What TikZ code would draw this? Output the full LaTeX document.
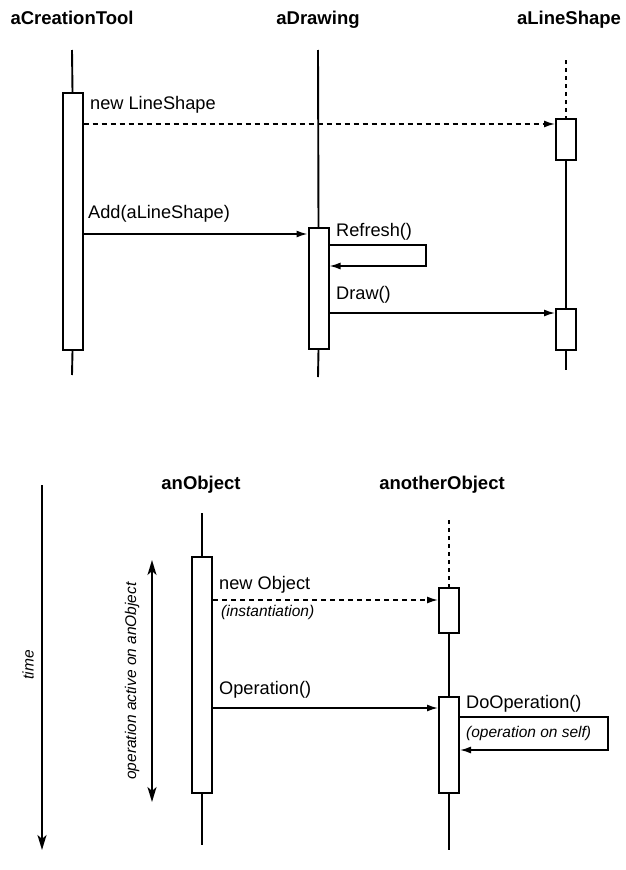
\documentclass[tikz,border=0pt]{standalone}
\usepackage{fontspec}
\setmainfont{Liberation Sans}
\usetikzlibrary{arrows.meta}
\begin{document}
\begin{tikzpicture}[x=1pt,y=-1pt,
  obj/.style={font=\bfseries\fontsize{18.5}{22}\selectfont, inner sep=0},
  msg/.style={font=\fontsize{18.2}{22}\selectfont, anchor=west, inner sep=0},
  note/.style={font=\itshape\fontsize{15.5}{18}\selectfont, anchor=west, inner sep=0},
  act/.style={draw, line width=2pt, fill=white, minimum width=20pt, inner sep=0},
  life/.style={line width=1.9pt},
  lifedash/.style={line width=1.6pt, dash pattern=on 4pt off 4pt},
  call/.style={line width=1.5pt, -{Latex[length=11pt,width=7pt]}},
  create/.style={call, dash pattern=on 5pt off 4pt},
  axis/.style={line width=2pt},
]
\useasboundingbox (0,0) rectangle (625,870);

% ---------- upper sequence: creating and drawing a line shape ----------
\node[obj] (tTool) at (72,18) {aCreationTool};
\node[obj] (tDraw) at (318,20) {aDrawing};
\node[obj] (tLine) at (569,20) {aLineShape};

\coordinate (toolTop) at (72,50);
\coordinate (toolBot) at (72,375);
\coordinate (drawTop) at (318,50);
\coordinate (drawBot) at (318,377);
\coordinate (lineTop) at (566,60);
\coordinate (lineBot) at (566,370);

\node[act, minimum height=257pt] (toolAct) at (72.5,221.5) {};
\node[act, minimum height=121pt] (drawAct) at (318.5,288.5) {};
\node[act, minimum height=41pt]  (lineAct1) at (566,139.5) {};
\node[act, minimum height=41pt]  (lineAct2) at (566,329) {};

\draw[life] (toolTop) -- (toolAct.north);
\draw[life] (toolAct.south) -- (toolBot);
\draw[life] (drawTop) -- (drawAct.north);
\draw[life] (drawAct.south) -- (drawBot);
\draw[lifedash] (lineTop) -- (lineAct1.north);
\draw[life] (lineAct1.south) -- (lineAct2.north);
\draw[life] (lineAct2.south) -- (lineBot);

\coordinate (mNew) at (0,124);
\coordinate (mAdd) at (0,234);
\coordinate (mRefA) at (0,245);
\coordinate (mRefB) at (0,266);
\coordinate (mRefX) at (426,0);
\coordinate (mDraw) at (0,313);

\draw[create] (toolAct.east |- mNew) -- (lineAct1.west |- mNew);
\node[msg] (lNew) at (90,105) {new LineShape};

\draw[call] (toolAct.east |- mAdd) -- (drawAct.west |- mAdd);
\node[msg] (lAdd) at (88,214) {Add(aLineShape)};

\draw[call] (drawAct.east |- mRefA) -- (mRefX |- mRefA) -- (mRefX |- mRefB) -- (drawAct.east |- mRefB);
\node[msg] (lRef) at (336,232) {Refresh()};

\draw[call] (drawAct.east |- mDraw) -- (lineAct2.west |- mDraw);
\node[msg] (lDraw) at (336,295) {Draw()};

% ---------- lower sequence: notation ----------
\coordinate (timeTop) at (42,485);
\coordinate (timeBot) at (42,850);
\draw[axis, -{Stealth[length=15pt,width=9pt,inset=4pt]}] (timeTop) -- (timeBot);
\node[note, anchor=center, rotate=90] (lTime) at (28,665) {time};

\coordinate (spanTop) at (152,560);
\coordinate (spanBot) at (152,802);
\draw[axis, {Stealth[length=15pt,width=9pt,inset=4pt]}-{Stealth[length=15pt,width=9pt,inset=4pt]}] (spanTop) -- (spanBot);
\node[note, anchor=center, rotate=90] (lSpan) at (132,681) {operation active on anObject};

\node[obj] (tObj) at (201,485) {anObject};
\node[obj] (tOther) at (442,485) {anotherObject};

\coordinate (objTop) at (202,513);
\coordinate (objBot) at (202,845);
\coordinate (othTop) at (449,520);
\coordinate (othBot) at (449,850);

\node[act, minimum height=236pt] (objAct) at (202,675) {};
\node[act, minimum height=45pt]  (othAct1) at (449,610.5) {};
\node[act, minimum height=96pt]  (othAct2) at (449,745) {};

\draw[life] (objTop) -- (objAct.north);
\draw[life] (objAct.south) -- (objBot);
\draw[lifedash] (othTop) -- (othAct1.north);
\draw[life] (othAct1.south) -- (othAct2.north);
\draw[life] (othAct2.south) -- (othBot);

\coordinate (mObj) at (0,600);
\coordinate (mOp) at (0,708);
\coordinate (mSelfA) at (0,717);
\coordinate (mSelfB) at (0,750);
\coordinate (mSelfX) at (608,0);

\draw[create] (objAct.east |- mObj) -- (othAct1.west |- mObj);
\node[msg] (lObj) at (219,585) {new Object};
\node[note] (lInst) at (221,612) {(instantiation)};

\draw[call] (objAct.east |- mOp) -- (othAct2.west |- mOp);
\node[msg] (lOp) at (219,690) {Operation()};

\draw[call] (othAct2.east |- mSelfA) -- (mSelfX |- mSelfA) -- (mSelfX |- mSelfB) -- (othAct2.east |- mSelfB);
\node[msg] (lDoOp) at (466,704) {DoOperation()};
\node[note] (lSelf) at (466,733) {(operation on self)};
\end{tikzpicture}
\end{document}
